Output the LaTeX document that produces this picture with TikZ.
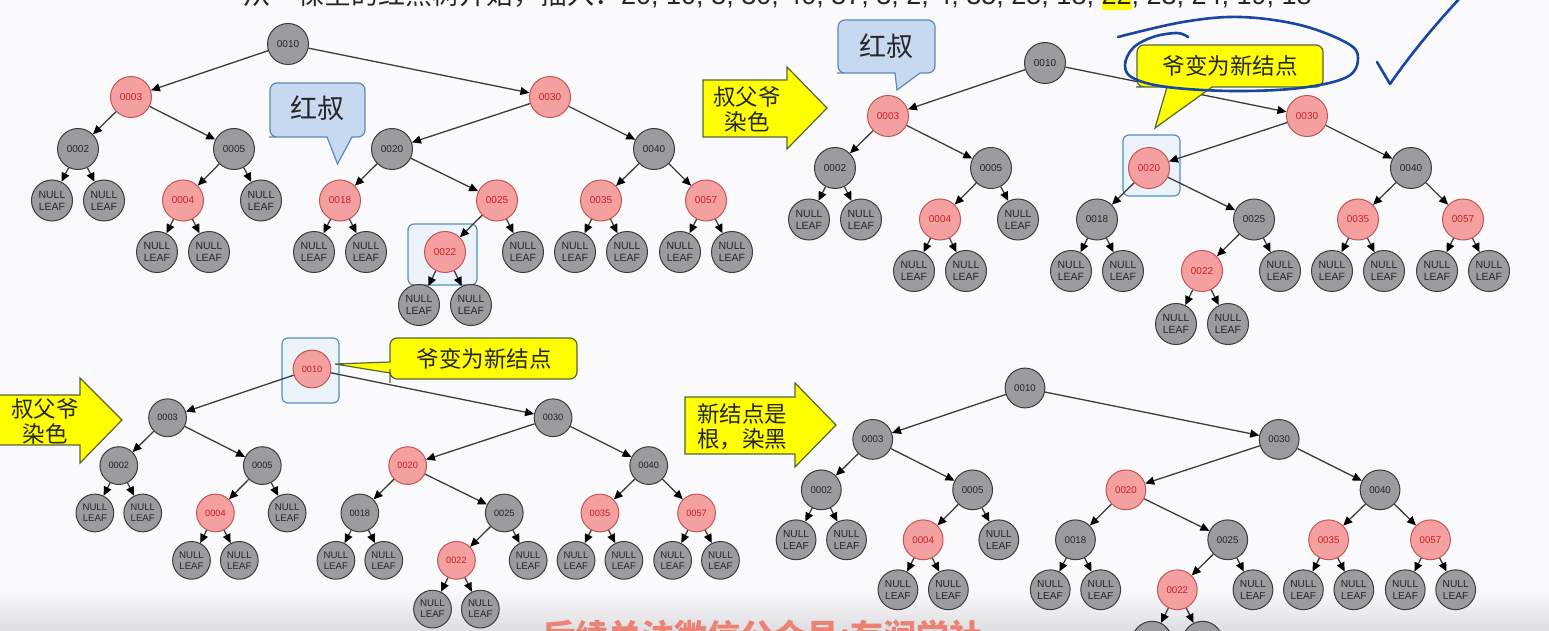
\documentclass[tikz,border=0pt]{standalone}
\usepackage{fontspec}
\setmainfont{Liberation Sans}
\newfontfamily\cjk{Noto Sans CJK SC}
\usetikzlibrary{arrows.meta}
\definecolor{bfill}{RGB}{155,155,160}
\definecolor{bdraw}{RGB}{60,60,62}
\definecolor{rfill}{RGB}{245,160,160}
\definecolor{rdraw}{RGB}{195,85,85}
\definecolor{rtext}{RGB}{200,30,40}
\definecolor{edgec}{RGB}{60,60,60}
\definecolor{hlfill}{RGB}{236,243,250}
\definecolor{hldraw}{RGB}{80,145,195}
\definecolor{bcfill}{RGB}{198,217,240}
\definecolor{bcdraw}{RGB}{95,135,185}
\definecolor{ylw}{RGB}{255,255,0}
\definecolor{ydraw}{RGB}{85,100,60}
\definecolor{penc}{RGB}{25,70,160}
\definecolor{wmc}{RGB}{235,130,115}
\definecolor{bgc}{RGB}{250,250,252}
\definecolor{shadec}{RGB}{222,222,226}
\newcommand\rbtree[1]{%
\node[n10] (#1-10) at (0,0) {0010};
\node[n3] (#1-3) at (-157,53) {0003};
\node[n30] (#1-30) at (262,53) {0030};
\node[n2] (#1-2) at (-210,105) {0002};
\node[n5] (#1-5) at (-54,105) {0005};
\node[n20] (#1-20) at (104,105) {0020};
\node[n40] (#1-40) at (366,105) {0040};
\node[leaf] (#1-2a) at (-236,156.5) {NULL\\LEAF};
\node[leaf] (#1-2b) at (-184,156.5) {NULL\\LEAF};
\node[n4] (#1-4) at (-105,156.5) {0004};
\node[leaf] (#1-5b) at (-27,156.5) {NULL\\LEAF};
\node[n18] (#1-18) at (52,156.5) {0018};
\node[n25] (#1-25) at (209,156.5) {0025};
\node[n35] (#1-35) at (313,156.5) {0035};
\node[n57] (#1-57) at (418,156.5) {0057};
\node[leaf] (#1-4a) at (-131,208) {NULL\\LEAF};
\node[leaf] (#1-4b) at (-79,208) {NULL\\LEAF};
\node[leaf] (#1-18a) at (26,208) {NULL\\LEAF};
\node[leaf] (#1-18b) at (78,208) {NULL\\LEAF};
\node[n22] (#1-22) at (157,208) {0022};
\node[leaf] (#1-25b) at (235,208) {NULL\\LEAF};
\node[leaf] (#1-35a) at (287,208) {NULL\\LEAF};
\node[leaf] (#1-35b) at (339,208) {NULL\\LEAF};
\node[leaf] (#1-57a) at (392,208) {NULL\\LEAF};
\node[leaf] (#1-57b) at (444,208) {NULL\\LEAF};
\node[leaf] (#1-22a) at (131,261) {NULL\\LEAF};
\node[leaf] (#1-22b) at (183,261) {NULL\\LEAF};
\foreach \ndA/\ndB in {10/3,10/30,3/2,3/5,30/20,30/40,2/2a,2/2b,5/4,5/5b,20/18,20/25,40/35,40/57,4/4a,4/4b,18/18a,18/18b,25/22,25/25b,35/35a,35/35b,57/57a,57/57b,22/22a,22/22b}
  \draw[edge] (#1-\ndA) -- (#1-\ndB);
}
\tikzset{
  tnode/.style={circle, draw, line width=1pt, minimum size=41pt, inner sep=0pt, font=\fontsize{10}{12}\selectfont},
  bnode/.style={tnode, fill=bfill, draw=bdraw, text=black!85},
  rnode/.style={tnode, fill=rfill, draw=rdraw, text=rtext},
  leaf/.style={bnode, align=center, font=\fontsize{10.5}{12}\selectfont},
  edge/.style={draw=edgec, line width=1.3pt, -{Triangle[length=9pt,width=8pt,black]}},
  hlbox/.style={draw=hldraw, fill=hlfill, line width=1.2pt, rounded corners=6pt, inner sep=0pt},
  bluecall/.style={draw=bcdraw, fill=bcfill, line width=1.2pt},
  ylwcall/.style={draw=ydraw, fill=ylw, line width=1.2pt},
  yarrow/.style={draw=ydraw, fill=ylw, line width=1.2pt},
  calltext/.style={text=black!85, inner sep=0pt, align=center},
  penstroke/.style={draw=penc, line width=2.6pt, line cap=round, line join=round},
}
\begin{document}
\begin{tikzpicture}[x=1pt, y=-1pt]
\useasboundingbox (0,0) rectangle (1549,631);
\clip (0,0) rectangle (1549,631);
\fill[bgc] (0,0) rectangle (1549,631);
\shade[top color=bgc, bottom color=shadec] (0,590) rectangle (1549,631);

% title line (cut at the top)
\node[anchor=base west, inner sep=0pt, text=black!85] (title) at (243,5)
  {\cjk\fontsize{27}{30}\selectfont 从一棵空的红黑树开始，插入：\rmfamily 20, 10, 5, 30, 40, 57, 3, 2, 4, 35, 25, 18, {\setlength\fboxsep{0pt}\colorbox{ylw}{\rule[-5pt]{0pt}{30pt}22}}, 23, 24, 19, 18};

% highlight boxes
\node[hlbox, minimum width=69pt, minimum height=61pt] (hl1) at (442.5,254.5) {};
\node[hlbox, minimum width=57pt, minimum height=61pt] (hl2) at (1151.5,165.5) {};
\node[hlbox, minimum width=57pt, minimum height=65pt] (hl3) at (310.5,370.5) {};

% tree 1
\begin{scope}[shift={(288,44)}, n10/.style=bnode, n3/.style=rnode, n30/.style=rnode, n2/.style=bnode, n5/.style=bnode, n20/.style=bnode, n40/.style=bnode, n4/.style=rnode, n18/.style=rnode, n25/.style=rnode, n35/.style=rnode, n57/.style=rnode, n22/.style=rnode]
\rbtree{a}
\end{scope}
% tree 2
\begin{scope}[shift={(1045,63)}, n10/.style=bnode, n3/.style=rnode, n30/.style=rnode, n2/.style=bnode, n5/.style=bnode, n20/.style=rnode, n40/.style=bnode, n4/.style=rnode, n18/.style=bnode, n25/.style=bnode, n35/.style=rnode, n57/.style=rnode, n22/.style=rnode]
\rbtree{b}
\end{scope}
% tree 3
\begin{scope}[shift={(312,369)}, scale=0.92, transform shape, n10/.style=rnode, n3/.style=bnode, n30/.style=bnode, n2/.style=bnode, n5/.style=bnode, n20/.style=rnode, n40/.style=bnode, n4/.style=rnode, n18/.style=bnode, n25/.style=bnode, n35/.style=rnode, n57/.style=rnode, n22/.style=rnode]
\rbtree{c}
\end{scope}
% tree 4
\begin{scope}[shift={(1025,388)}, scale=0.97, transform shape, n10/.style=bnode, n3/.style=bnode, n30/.style=bnode, n2/.style=bnode, n5/.style=bnode, n20/.style=rnode, n40/.style=bnode, n4/.style=rnode, n18/.style=bnode, n25/.style=bnode, n35/.style=rnode, n57/.style=rnode, n22/.style=rnode]
\rbtree{d}
\end{scope}

% callout 1: red uncle (tree 1)
\draw[bluecall] (327,137) -- (337.5,164) -- (352,137) -- (356,137) [rounded corners=7pt] -- (365,137) -- (365,83) -- (270,83) -- (270,137) -- (276,137) [sharp corners] -- cycle;
\node[calltext, font=\cjk\fontsize{27}{30}\selectfont] (c1) at (317.5,108) {红叔};
% callout 2: red uncle (tree 2)
\draw[bluecall] (895,73) -- (897,90) -- (920,73) -- (924,73) [rounded corners=7pt] -- (935,73) -- (935,20) -- (838,20) -- (838,73) -- (844,73) [sharp corners] -- cycle;
\node[calltext, font=\cjk\fontsize{27}{30}\selectfont] (c2) at (886,46) {红叔};
% callout 3: grandfather becomes new node (tree 2)
\draw[ylwcall] (1167,87) -- (1155,128) -- (1212,87) -- (1216,87) [rounded corners=7pt] -- (1323,87) -- (1323,45) -- (1137,45) -- (1137,87) -- (1143,87) [sharp corners] -- cycle;
\node[calltext, font=\cjk\fontsize{22.5}{25}\selectfont] (c3) at (1230,66) {爷变为新结点};
% callout 4: grandfather becomes new node (tree 3)
\draw[ylwcall] (390,373) -- (335,364) -- (390,362) -- (390,356) [rounded corners=7pt] -- (390,338) -- (577,338) -- (577,379) -- (390,379) -- (390,376) [sharp corners] -- cycle;
\node[calltext, font=\cjk\fontsize{22.5}{25}\selectfont] (c4) at (484,359) {爷变为新结点};

% block arrows
\draw[yarrow] (703,80) -- (787,80) -- (787,67) -- (827,108) -- (787,149) -- (787,137) -- (703,137) -- cycle;
\node[calltext, font=\cjk\fontsize{22.5}{25}\selectfont] (a1) at (747,109) {叔父爷\\染色};
\draw[yarrow] (-3,395) -- (80,395) -- (80,378) -- (122,420) -- (80,463) -- (80,445) -- (-3,445) -- cycle;
\node[calltext, font=\cjk\fontsize{22.5}{25}\selectfont] (a2) at (45,421) {叔父爷\\染色};
\draw[yarrow] (685,397) -- (795,397) -- (795,383) -- (836,425) -- (795,467) -- (795,454) -- (685,454) -- cycle;
\node[calltext, font=\cjk\fontsize{22.5}{25}\selectfont] (a3) at (742,427) {新结点是\\根，染黑};

% hand-drawn pen marks
\draw[penstroke] plot[smooth, tension=0.6] coordinates {(1118,37) (1183,22) (1240,17) (1300,25) (1347,43) (1358,58) (1347,77) (1300,88) (1233,91) (1167,87) (1133,78) (1125,65) (1133,48) (1153,37) (1177,33) (1188,37)};
\draw[penstroke] (1377,62) -- (1390,84) .. controls (1408,58) and (1432,28) .. (1460,-2);

% watermark (cut at the bottom)
\node[anchor=base west, inner sep=0pt, text=wmc, font=\cjk\bfseries\fontsize{33}{36}\selectfont] (wmark) at (542,648) {后续关注微信公众号:有润学社};
\end{tikzpicture}
\end{document}
